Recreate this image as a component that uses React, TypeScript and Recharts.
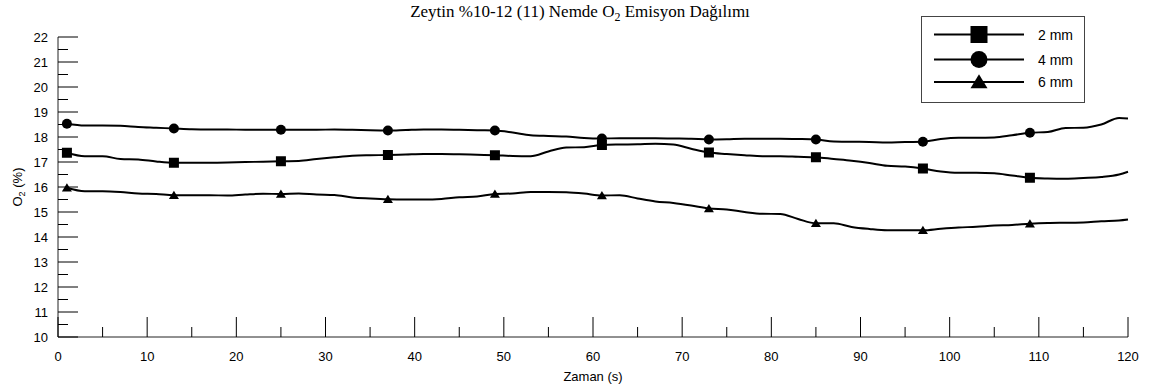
import { LineChart, Line, XAxis, YAxis, Label } from "recharts";

// time (s), sampled every 2 s, plus the last point
const times = [
  1, 3, 5, 7, 9, 11, 13, 15, 17, 19, 21, 23, 25, 27, 29, 31, 33, 35, 37, 39,
  41, 43, 45, 47, 49, 51, 53, 55, 57, 59, 61, 63, 65, 67, 69, 71, 73, 75, 77, 79,
  81, 83, 85, 87, 89, 91, 93, 95, 97, 99, 101, 103, 105, 107, 109, 111, 113, 115, 117, 119,
  120,
];

const o2Mm2 = [
  17.37, 17.23, 17.23, 17.12, 17.1, 17.02, 16.97, 16.97, 16.97, 16.98, 17.0, 17.01, 17.03, 17.04, 17.12, 17.19, 17.25, 17.27, 17.28, 17.3,
  17.32, 17.32, 17.31, 17.29, 17.27, 17.24, 17.23, 17.42, 17.58, 17.59, 17.68, 17.7, 17.71, 17.73, 17.7, 17.53, 17.38, 17.32, 17.27, 17.23,
  17.23, 17.21, 17.19, 17.12, 17.05, 16.96, 16.85, 16.82, 16.74, 16.62, 16.57, 16.57, 16.55, 16.46, 16.37, 16.34, 16.33, 16.36, 16.4, 16.5,
  16.61,
];

const o2Mm4 = [
  18.53, 18.46, 18.46, 18.45, 18.4, 18.37, 18.34, 18.31, 18.3, 18.3, 18.29, 18.29, 18.29, 18.29, 18.29, 18.3, 18.29, 18.27, 18.26, 18.28,
  18.3, 18.3, 18.29, 18.27, 18.26, 18.18, 18.07, 18.04, 18.02, 17.96, 17.94, 17.95, 17.95, 17.95, 17.94, 17.93, 17.9, 17.91, 17.93, 17.93,
  17.93, 17.92, 17.9, 17.82, 17.81, 17.8, 17.78, 17.8, 17.81, 17.92, 17.97, 17.97, 17.98, 18.07, 18.17, 18.2, 18.36, 18.37, 18.5, 18.76,
  18.74,
];

const o2Mm6 = [
  15.97, 15.83, 15.83, 15.8, 15.74, 15.72, 15.67, 15.67, 15.67, 15.66, 15.7, 15.73, 15.72, 15.74, 15.7, 15.68, 15.58, 15.54, 15.51, 15.5,
  15.5, 15.52, 15.59, 15.62, 15.72, 15.74, 15.8, 15.8, 15.79, 15.74, 15.66, 15.67, 15.54, 15.42, 15.36, 15.26, 15.14, 15.1, 15.0, 14.93,
  14.92, 14.72, 14.55, 14.55, 14.4, 14.32, 14.27, 14.27, 14.27, 14.33, 14.38, 14.41, 14.46, 14.48, 14.53, 14.56, 14.57, 14.58, 14.63, 14.66,
  14.7,
];

const markerTimes = [1, 13, 25, 37, 49, 61, 73, 85, 97, 109];

const xTicks = [0, 5, 10, 15, 20, 25, 30, 35, 40, 45, 50, 55, 60, 65, 70, 75, 80, 85, 90, 95, 100, 105, 110, 115, 120];
const yTicks = [
  10, 10.5, 11, 11.5, 12, 12.5, 13, 13.5, 14, 14.5, 15, 15.5, 16, 16.5, 17, 17.5, 18, 18.5, 19, 19.5, 20, 20.5, 21, 21.5, 22,
];

const series = [
  { key: "mm2", name: "2 mm", shape: "square" },
  { key: "mm4", name: "4 mm", shape: "circle" },
  { key: "mm6", name: "6 mm", shape: "triangle" },
];

const data = times.map((t, i) => ({ t, mm2: o2Mm2[i], mm4: o2Mm4[i], mm6: o2Mm6[i] }));

const FONT = '"Liberation Sans", Arial, sans-serif';

const Marker = ({ shape, cx, cy, s }: any) => {
  if (shape === "square") {
    return <rect x={cx - s / 2} y={cy - s / 2} width={s} height={s} fill="#000" />;
  }
  if (shape === "circle") {
    return <circle cx={cx} cy={cy} r={s / 2} fill="#000" />;
  }
  const h = s * 0.82;
  return (
    <polygon
      points={`${cx},${cy - h * 0.55} ${cx + s / 2},${cy + h * 0.45} ${cx - s / 2},${cy + h * 0.45}`}
      fill="#000"
    />
  );
};

const makeDot = (shape: string) => (props: any) => {
  const { cx, cy, payload, index } = props;
  if (!markerTimes.includes(payload.t)) return <g key={`d-${index}`} />;
  return <Marker key={`d-${index}`} shape={shape} cx={cx} cy={cy} s={10} />;
};

const YTick = ({ x, y, payload }: any) => {
  const major = Number.isInteger(payload.value);
  return (
    <g>
      <line x1={x} x2={x + (major ? 20 : 10)} y1={y} y2={y} stroke="#000" strokeWidth={1} />
      {major && (
        <text x={x - 10} y={y} dy={4.5} textAnchor="end" fontSize={13} fontFamily={FONT} fill="#000">
          {payload.value}
        </text>
      )}
    </g>
  );
};

const XTick = ({ x, y, payload }: any) => {
  const major = payload.value % 10 === 0;
  return (
    <g>
      <line x1={x} x2={x} y1={y} y2={y - (major ? 20 : 10)} stroke="#000" strokeWidth={1} />
      {major && (
        <text x={x} y={y + 24} textAnchor="middle" fontSize={13} fontFamily={FONT} fill="#000">
          {payload.value}
        </text>
      )}
    </g>
  );
};

const YLabel = ({ viewBox }: any) => {
  const cx = 18;
  const cy = viewBox.y + viewBox.height / 2;
  return (
    <text
      x={cx}
      y={cy}
      dy={4}
      transform={`rotate(-90, ${cx}, ${cy})`}
      textAnchor="middle"
      fontSize={13}
      fontFamily={FONT}
      fill="#000"
    >
      O<tspan dy={3} fontSize={9}>2</tspan>
      <tspan dy={-3}> (%)</tspan>
    </text>
  );
};

const XLabel = ({ viewBox }: any) => (
  <text
    x={viewBox.x + viewBox.width / 2}
    y={381}
    textAnchor="middle"
    fontSize={13}
    fontFamily={FONT}
    fill="#000"
  >
    Zaman (s)
  </text>
);

const LegendBox = () => (
  <svg width={164} height={87} style={{ position: "absolute", left: 921, top: 16 }}>
    <rect x={0.5} y={0.5} width={163} height={86} fill="#fff" stroke="#444" strokeWidth={1} />
    {series.map((s, i) => {
      const cy = [18.5, 43.5, 66][i];
      return (
        <g key={s.key}>
          <line x1={13} x2={103} y1={cy} y2={cy} stroke="#000" strokeWidth={2} />
          <Marker shape={s.shape} cx={58} cy={cy} s={17} />
          <text x={117} y={cy} dy={5} fontSize={14} fontFamily={FONT} fill="#000">
            {s.name}
          </text>
        </g>
      );
    })}
  </svg>
);

export default function App() {
  return (
    <div style={{ position: "absolute", left: 0, top: 0, width: 1152, height: 385, background: "#fff" }}>
      <div
        style={{
          position: "absolute",
          top: 2,
          left: 0,
          width: 1160,
          textAlign: "center",
          fontFamily: '"Liberation Serif", "Times New Roman", serif',
          fontSize: 17,
          color: "#000",
          whiteSpace: "nowrap",
        }}
      >
        Zeytin %10-12 (11) Nemde O<sub style={{ fontSize: 12 }}>2</sub> Emisyon Dağılımı
      </div>

      <LineChart width={1152} height={385} data={data} margin={{ top: 37, right: 24, bottom: 0, left: 0 }}>
        <XAxis
          dataKey="t"
          type="number"
          domain={[0, 120]}
          ticks={xTicks}
          interval={0}
          height={48}
          tickSize={0}
          tickMargin={0}
          tickLine={false}
          tick={<XTick />}
          axisLine={{ stroke: "#222" }}
        >
          <Label content={<XLabel />} />
        </XAxis>
        <YAxis
          type="number"
          domain={[10, 22]}
          ticks={yTicks}
          interval={0}
          width={58}
          tickSize={0}
          tickMargin={0}
          tickLine={false}
          tick={<YTick />}
          axisLine={{ stroke: "#222" }}
        >
          <Label content={<YLabel />} />
        </YAxis>
        {series.map((s) => (
          <Line
            key={s.key}
            dataKey={s.key}
            name={s.name}
            type="monotone"
            stroke="#000"
            strokeWidth={2}
            dot={makeDot(s.shape)}
            activeDot={false}
            isAnimationActive={false}
          />
        ))}
      </LineChart>

      <LegendBox />
    </div>
  );
}
